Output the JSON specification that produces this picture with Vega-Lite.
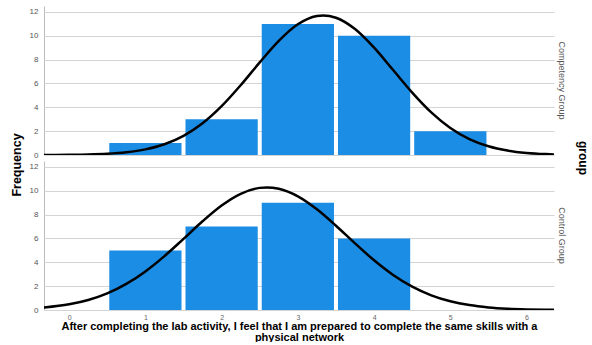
{
  "$schema": "https://vega.github.io/schema/vega-lite/v6.json",
  "padding": {"left": 10, "top": 6, "right": 2, "bottom": 0},
  "background": "white",
  "title": {"text": "Frequency", "orient": "left", "anchor": "middle", "font": "Liberation Sans", "fontSize": 12.5, "fontWeight": "bold", "color": "#000000", "offset": 6, "dx": 9},
  "config": {
    "view": {"stroke": null},
    "font": "Liberation Sans",
    "axis": {"labelFont": "Liberation Sans", "titleFont": "Liberation Sans"}
  },
  "data": {"values": [
    {"group": "Competency Group", "kind": "bar", "x0": 0.5, "x1": 1.5, "count": 1},
    {"group": "Competency Group", "kind": "bar", "x0": 1.5, "x1": 2.5, "count": 3},
    {"group": "Competency Group", "kind": "bar", "x0": 2.5, "x1": 3.5, "count": 11},
    {"group": "Competency Group", "kind": "bar", "x0": 3.5, "x1": 4.5, "count": 10},
    {"group": "Competency Group", "kind": "bar", "x0": 4.5, "x1": 5.5, "count": 2},
    {"group": "Control Group", "kind": "bar", "x0": 0.5, "x1": 1.5, "count": 5},
    {"group": "Control Group", "kind": "bar", "x0": 1.5, "x1": 2.5, "count": 7},
    {"group": "Control Group", "kind": "bar", "x0": 2.5, "x1": 3.5, "count": 9},
    {"group": "Control Group", "kind": "bar", "x0": 3.5, "x1": 4.5, "count": 6},
    {"group": "Competency Group", "kind": "curve", "x": -0.33, "y": 0.004},
    {"group": "Competency Group", "kind": "curve", "x": 0, "y": 0.017},
    {"group": "Competency Group", "kind": "curve", "x": 0.25, "y": 0.043},
    {"group": "Competency Group", "kind": "curve", "x": 0.5, "y": 0.102},
    {"group": "Competency Group", "kind": "curve", "x": 0.75, "y": 0.227},
    {"group": "Competency Group", "kind": "curve", "x": 1, "y": 0.47},
    {"group": "Competency Group", "kind": "curve", "x": 1.25, "y": 0.9},
    {"group": "Competency Group", "kind": "curve", "x": 1.5, "y": 1.607},
    {"group": "Competency Group", "kind": "curve", "x": 1.75, "y": 2.663},
    {"group": "Competency Group", "kind": "curve", "x": 2, "y": 4.097},
    {"group": "Competency Group", "kind": "curve", "x": 2.25, "y": 5.854},
    {"group": "Competency Group", "kind": "curve", "x": 2.5, "y": 7.769},
    {"group": "Competency Group", "kind": "curve", "x": 2.75, "y": 9.577},
    {"group": "Competency Group", "kind": "curve", "x": 3, "y": 10.965},
    {"group": "Competency Group", "kind": "curve", "x": 3.25, "y": 11.661},
    {"group": "Competency Group", "kind": "curve", "x": 3.333, "y": 11.709},
    {"group": "Competency Group", "kind": "curve", "x": 3.5, "y": 11.518},
    {"group": "Competency Group", "kind": "curve", "x": 3.75, "y": 10.567},
    {"group": "Competency Group", "kind": "curve", "x": 4, "y": 9.005},
    {"group": "Competency Group", "kind": "curve", "x": 4.25, "y": 7.127},
    {"group": "Competency Group", "kind": "curve", "x": 4.5, "y": 5.239},
    {"group": "Competency Group", "kind": "curve", "x": 4.75, "y": 3.577},
    {"group": "Competency Group", "kind": "curve", "x": 5, "y": 2.268},
    {"group": "Competency Group", "kind": "curve", "x": 5.25, "y": 1.336},
    {"group": "Competency Group", "kind": "curve", "x": 5.5, "y": 0.731},
    {"group": "Competency Group", "kind": "curve", "x": 5.75, "y": 0.371},
    {"group": "Competency Group", "kind": "curve", "x": 6, "y": 0.175},
    {"group": "Competency Group", "kind": "curve", "x": 6.25, "y": 0.077},
    {"group": "Competency Group", "kind": "curve", "x": 6.36, "y": 0.052},
    {"group": "Control Group", "kind": "curve", "x": -0.33, "y": 0.21},
    {"group": "Control Group", "kind": "curve", "x": 0, "y": 0.48},
    {"group": "Control Group", "kind": "curve", "x": 0.25, "y": 0.843},
    {"group": "Control Group", "kind": "curve", "x": 0.5, "y": 1.397},
    {"group": "Control Group", "kind": "curve", "x": 0.75, "y": 2.188},
    {"group": "Control Group", "kind": "curve", "x": 1, "y": 3.237},
    {"group": "Control Group", "kind": "curve", "x": 1.25, "y": 4.522},
    {"group": "Control Group", "kind": "curve", "x": 1.5, "y": 5.968},
    {"group": "Control Group", "kind": "curve", "x": 1.75, "y": 7.441},
    {"group": "Control Group", "kind": "curve", "x": 2, "y": 8.764},
    {"group": "Control Group", "kind": "curve", "x": 2.25, "y": 9.749},
    {"group": "Control Group", "kind": "curve", "x": 2.5, "y": 10.245},
    {"group": "Control Group", "kind": "curve", "x": 2.593, "y": 10.285},
    {"group": "Control Group", "kind": "curve", "x": 2.75, "y": 10.17},
    {"group": "Control Group", "kind": "curve", "x": 3, "y": 9.535},
    {"group": "Control Group", "kind": "curve", "x": 3.25, "y": 8.446},
    {"group": "Control Group", "kind": "curve", "x": 3.5, "y": 7.067},
    {"group": "Control Group", "kind": "curve", "x": 3.75, "y": 5.585},
    {"group": "Control Group", "kind": "curve", "x": 4, "y": 4.17},
    {"group": "Control Group", "kind": "curve", "x": 4.25, "y": 2.94},
    {"group": "Control Group", "kind": "curve", "x": 4.5, "y": 1.958},
    {"group": "Control Group", "kind": "curve", "x": 4.75, "y": 1.232},
    {"group": "Control Group", "kind": "curve", "x": 5, "y": 0.732},
    {"group": "Control Group", "kind": "curve", "x": 5.25, "y": 0.411},
    {"group": "Control Group", "kind": "curve", "x": 5.5, "y": 0.218},
    {"group": "Control Group", "kind": "curve", "x": 5.75, "y": 0.109},
    {"group": "Control Group", "kind": "curve", "x": 6, "y": 0.052},
    {"group": "Control Group", "kind": "curve", "x": 6.25, "y": 0.023},
    {"group": "Control Group", "kind": "curve", "x": 6.36, "y": 0.015}
  ]},
  "facet": {
    "row": {
      "field": "group", "type": "nominal", "title": "group",
      "header": {
        "labelOrient": "right", "titleOrient": "right",
        "labelAngle": 90, "titleAngle": 90,
        "labelFont": "Liberation Sans", "labelFontSize": 9, "labelColor": "#555555",
        "labelPadding": 3,
        "titleFont": "Liberation Sans", "titleFontSize": 12, "titleFontWeight": "bold", "titleColor": "#000000",
        "titlePadding": 0
      }
    }
  },
  "spacing": 6,
  "spec": {
    "width": 510,
    "height": 149,
    "layer": [
      {
        "transform": [{"filter": "datum.kind == 'bar'"}],
        "mark": {"type": "rect", "color": "#1b8de4", "xOffset": 2, "x2Offset": -2},
        "encoding": {
          "x": {"field": "x0", "type": "quantitative",
            "scale": {"domain": [-0.33, 6.36], "nice": false, "zero": false},
            "axis": {"values": [0, 1, 2, 3, 4, 5, 6], "format": "d", "labelOverlap": false, "grid": false, "ticks": false, "domain": false,
              "labelFontSize": 7, "labelColor": "#666666", "labelPadding": 3,
              "title": ["After completing the lab activity, I feel that I am prepared to complete the same skills with a", "physical network"],
              "titleFontSize": 11, "titleFontWeight": "bold", "titleColor": "#000000", "titlePadding": 0, "titleLineHeight": 11}},
          "x2": {"field": "x1"},
          "y": {"field": "count", "type": "quantitative",
            "scale": {"domain": [0, 12.5], "nice": false},
            "axis": {"values": [0, 2, 4, 6, 8, 10, 12], "format": "d", "labelOverlap": false, "grid": true, "gridColor": "#d4d4d4", "gridWidth": 1.2,
              "ticks": false, "domainColor": "#bbbbbb", "labelFontSize": 8, "labelColor": "#555555", "labelPadding": 6,
              "title": null}},
          "y2": {"datum": 0}
        }
      },
      {
        "transform": [{"filter": "datum.kind == 'curve'"}],
        "mark": {"type": "line", "color": "#000000", "strokeWidth": 2.5, "interpolate": "monotone", "clip": true},
        "encoding": {
          "x": {"field": "x", "type": "quantitative",
            "axis": {"values": [0, 1, 2, 3, 4, 5, 6], "format": "d", "labelOverlap": false, "grid": false, "ticks": false, "domain": false,
              "labelFontSize": 7, "labelColor": "#666666", "labelPadding": 3,
              "title": ["After completing the lab activity, I feel that I am prepared to complete the same skills with a", "physical network"],
              "titleFontSize": 11, "titleFontWeight": "bold", "titleColor": "#000000", "titlePadding": 0, "titleLineHeight": 11}},
          "y": {"field": "y", "type": "quantitative",
            "axis": {"values": [0, 2, 4, 6, 8, 10, 12], "format": "d", "labelOverlap": false, "grid": true, "gridColor": "#d4d4d4", "gridWidth": 1.2,
              "ticks": false, "domainColor": "#bbbbbb", "labelFontSize": 8, "labelColor": "#555555", "labelPadding": 6,
              "title": null}}
        }
      }
    ]
  }
}
